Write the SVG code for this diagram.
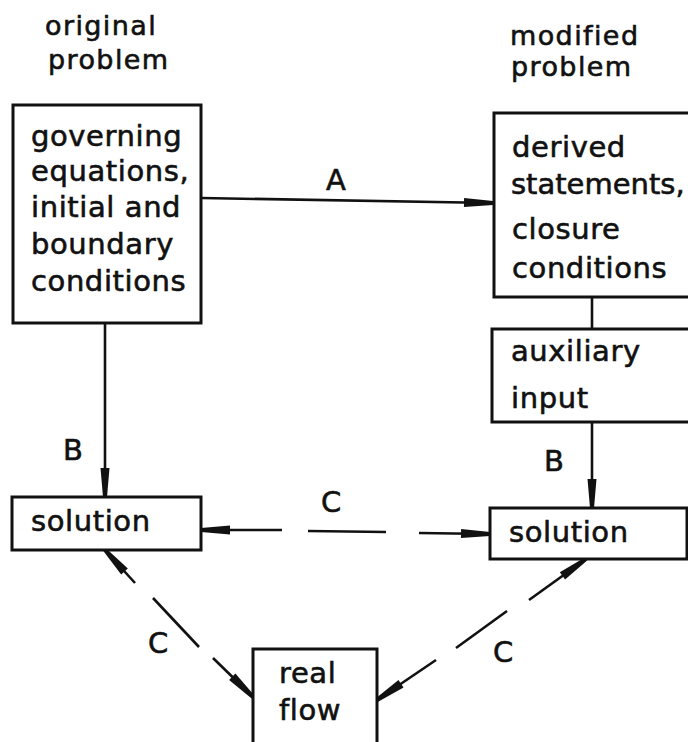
<svg xmlns="http://www.w3.org/2000/svg" width="688" height="742" viewBox="0 0 688 742">
<style>
  .box { fill: #ffffff; stroke: #111111; stroke-width: 3; }
  .t { font-family: "DejaVu Sans", sans-serif; font-size: 29px; fill: #111111; stroke: #111111; stroke-width: 0.6px; letter-spacing: 0.6px; }
  .title { font-family: "DejaVu Sans", sans-serif; font-size: 27px; fill: #111111; stroke: #111111; stroke-width: 0.6px; letter-spacing: 1.4px; }
  .lab { font-family: "DejaVu Sans", sans-serif; font-size: 29px; fill: #111111; stroke: #111111; stroke-width: 0.6px; }
  .c { fill: none; stroke: #111111; stroke-width: 2.6; }
</style>
<defs>
  <marker id="ah" markerUnits="userSpaceOnUse" markerWidth="34" markerHeight="18" refX="30" refY="9" orient="auto-start-reverse">
    <path d="M1,4.5 L30,7 L30,11 L1,13.5 Z" fill="#111111"/>
  </marker>
</defs>
<rect width="688" height="742" fill="#ffffff"/>

<g id="title-original">
  <text class="title" x="45" y="35">original</text>
  <text class="title" x="48" y="69">problem</text>
</g>
<g id="title-modified">
  <text class="title" x="510" y="45">modified</text>
  <text class="title" x="511" y="76">problem</text>
</g>

<g id="connectors">
  <!-- A -->
  <line class="c" x1="201" y1="198" x2="493" y2="203" marker-end="url(#ah)"/>
  <!-- B left -->
  <line class="c" x1="105" y1="323" x2="105" y2="497" marker-end="url(#ah)"/>
  <!-- derived to auxiliary -->
  <line class="c" x1="592" y1="297" x2="592" y2="329"/>
  <!-- B right -->
  <line class="c" x1="592" y1="422" x2="592" y2="508" marker-end="url(#ah)"/>
  <!-- C horizontal dashed -->
  <line class="c" x1="282" y1="530" x2="201" y2="530" marker-end="url(#ah)"/>
  <line class="c" x1="308" y1="531" x2="386" y2="532"/>
  <line class="c" x1="419" y1="533" x2="490" y2="534" marker-end="url(#ah)"/>
  <!-- C left diagonal -->
  <line class="c" x1="135" y1="583" x2="105" y2="550" marker-end="url(#ah)"/>
  <line class="c" x1="153" y1="598" x2="199" y2="647"/>
  <line class="c" x1="213" y1="658" x2="253" y2="697" marker-end="url(#ah)"/>
  <!-- C right diagonal -->
  <line class="c" x1="529" y1="600" x2="586" y2="559" marker-end="url(#ah)"/>
  <line class="c" x1="507" y1="611" x2="456" y2="648"/>
  <line class="c" x1="436" y1="660" x2="377" y2="700" marker-end="url(#ah)"/>
  <!-- labels -->
  <text class="lab" x="326" y="190">A</text>
  <text class="lab" x="63" y="460">B</text>
  <text class="lab" x="544" y="471">B</text>
  <text class="lab" x="321" y="512">C</text>
  <text class="lab" x="148" y="653">C</text>
  <text class="lab" x="493" y="662">C</text>
</g>

<g id="governing">
  <rect class="box" x="13" y="105" width="188" height="218"/>
  <text class="t" x="31" y="146">governing</text>
  <text class="t" x="31" y="181">equations,</text>
  <text class="t" x="31" y="217">initial and</text>
  <text class="t" x="31" y="254">boundary</text>
  <text class="t" x="31" y="291">conditions</text>
</g>

<g id="derived">
  <rect class="box" x="494" y="113" width="200" height="184"/>
  <text class="t" x="512" y="157">derived</text>
  <text class="t" x="511" y="194" style="letter-spacing:0">statements,</text>
  <text class="t" x="512" y="239">closure</text>
  <text class="t" x="512" y="278">conditions</text>
</g>

<g id="auxiliary">
  <rect class="box" x="492" y="329" width="202" height="93"/>
  <text class="t" x="511" y="361">auxiliary</text>
  <text class="t" x="511" y="408">input</text>
</g>

<g id="solution-left">
  <rect class="box" x="12" y="497" width="189" height="53"/>
  <text class="t" x="31" y="531">solution</text>
</g>

<g id="solution-right">
  <rect class="box" x="490" y="508" width="197" height="51"/>
  <text class="t" x="509" y="542">solution</text>
</g>

<g id="real-flow">
  <rect class="box" x="253" y="649" width="124" height="110"/>
  <text class="t" x="279" y="683">real</text>
  <text class="t" x="279" y="720">flow</text>
</g>
</svg>
